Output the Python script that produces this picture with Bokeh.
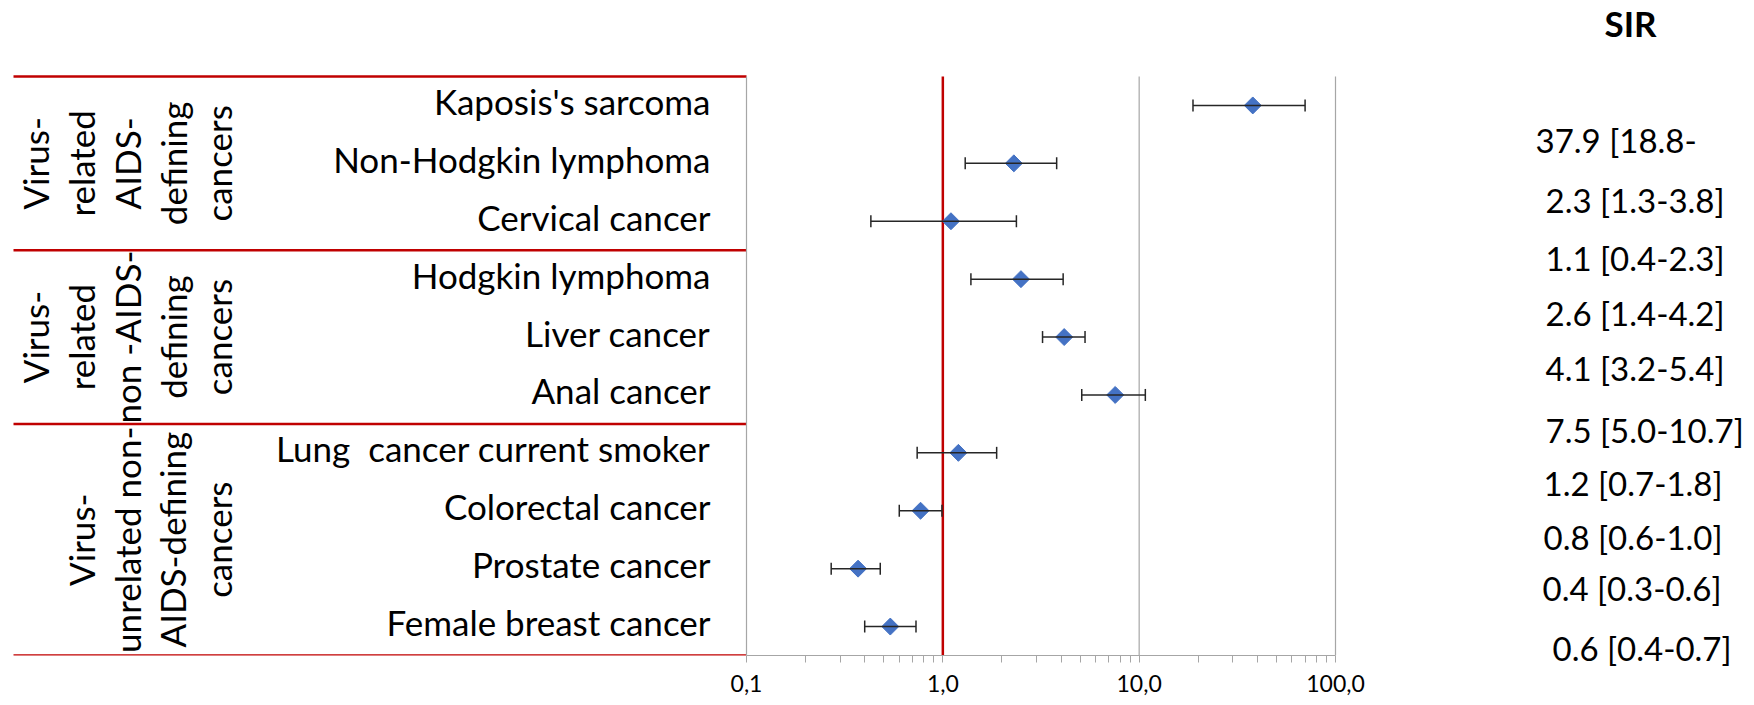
import numpy as np
from bokeh.plotting import figure
from bokeh.layouts import row
from bokeh.models import (Range1d, LogScale, LogAxis, FixedTicker, ColumnDataSource,
                          Whisker, TeeHead)
from bokeh.core.properties import value
from bokeh.embed import file_html
from bokeh.resources import INLINE

# ---------------- data ----------------
cancers = ["Kaposis's sarcoma", "Non-Hodgkin lymphoma", "Cervical cancer",
           "Hodgkin lymphoma", "Liver cancer", "Anal cancer",
           "Lung \u00a0cancer current smoker", "Colorectal cancer", "Prostate cancer",
           "Female breast cancer"]
sir = [37.9, 2.3, 1.1, 2.5, 4.15, 7.55, 1.2, 0.77, 0.37, 0.54]
ci_low = [18.8, 1.3, 0.43, 1.39, 3.22, 5.1, 0.74, 0.60, 0.27, 0.40]
ci_high = [70.0, 3.8, 2.37, 4.1, 5.3, 10.75, 1.88, 0.99, 0.48, 0.73]
sir_labels = ["37.9 [18.8-", "2.3 [1.3-3.8]", "1.1 [0.4-2.3]", "2.6 [1.4-4.2]",
              "4.1 [3.2-5.4]", "7.5 [5.0-10.7]", "1.2 [0.7-1.8]", "0.8 [0.6-1.0]",
              "0.4 [0.3-0.6]", "0.6 [0.4-0.7]"]
groups = ["Virus-\nrelated\nAIDS-\ndefining\ncancers",
          "Virus-\nrelated\nnon -AIDS-\ndefining\ncancers",
          "Virus-\nunrelated non-\nAIDS-defining\ncancers"]
group_sizes = [3, 3, 4]
major_ticks = [0.1, 1, 10, 100]
tick_labels = ["0,1", "1,0", "10,0", "100,0"]
reference_sir = 1.0
header = "SIR"

# ---------------- layout (pixels) ----------------
W, H = 1754, 705
W_MAIN = 1400
PLOT_TOP = 76.0
AXIS_Y = 655.0
ROW_PX = (AXIS_Y - PLOT_TOP) / len(cancers)
PLOT_LEFT, PLOT_RIGHT = 746.0, 1335.0
DECADE = (PLOT_RIGHT - PLOT_LEFT) / 3.0
FONT = value("Lato")
RED = "#c00000"
GRAY = "#a6a6a6"
BLUE = "#4472C4"
TXT_SHIFT = 4.5          # px: "middle" baseline sits slightly low

def px_to_y(py):
    return (py - PLOT_TOP) / ROW_PX

n = len(cancers)
row_y = [i + 0.5 for i in range(n)]
bounds = [0]
for g in group_sizes:
    bounds.append(bounds[-1] + g)
group_centers = [(bounds[k] + bounds[k + 1]) / 2 for k in range(len(group_sizes))]

# ---------------- main figure: table + forest plot ----------------
p = figure(frame_width=W_MAIN, frame_height=int(AXIS_Y),
           min_border_left=0, min_border_right=0, min_border_top=0,
           min_border_bottom=H - int(AXIS_Y),
           x_range=Range1d(0, W_MAIN), y_range=Range1d(n, px_to_y(0)),
           x_axis_type=None, y_axis_type=None,
           output_backend="svg", toolbar_location=None)
p.outline_line_color = None
p.background_fill_color = "white"
p.border_fill_color = "white"

log_lo = 10 ** (np.log10(major_ticks[0]) - PLOT_LEFT / DECADE)
log_hi = 10 ** (np.log10(major_ticks[0]) + (W_MAIN - PLOT_LEFT) / DECADE)
p.extra_x_ranges = {"log": Range1d(log_lo, log_hi)}
p.extra_x_scales = {"log": LogScale()}

minor = [k * 10.0 ** e for e in range(-1, 2) for k in range(2, 10)]
ax = LogAxis(x_range_name="log",
             ticker=FixedTicker(ticks=major_ticks, minor_ticks=minor),
             bounds=(major_ticks[0], major_ticks[-1]),
             major_label_overrides={t: l for t, l in zip(major_ticks, tick_labels)})
ax.axis_line_color = GRAY
ax.axis_line_width = 1.2
ax.major_tick_line_color = GRAY
ax.minor_tick_line_color = GRAY
ax.major_tick_in = 0
ax.major_tick_out = 7
ax.minor_tick_in = 0
ax.minor_tick_out = 7
ax.major_label_text_font = "Lato"
ax.major_label_text_font_size = "23px"
ax.major_label_text_color = "black"
ax.major_label_standoff = 12
p.add_layout(ax, "below")

# table lines
p.segment(x0=13, x1=PLOT_LEFT, y0=bounds, y1=bounds, line_color=RED, line_width=2.5)

# plot verticals: axis line at 0.1 and gridlines
grid_x = [t for t in major_ticks if t != reference_sir]
p.segment(x0=grid_x, x1=grid_x, y0=0, y1=n, x_range_name="log",
          line_color=GRAY, line_width=1.2)
p.segment(x0=[reference_sir], x1=[reference_sir], y0=[0], y1=[n], x_range_name="log",
          line_color=RED, line_width=2.5)

src = ColumnDataSource(dict(y=row_y, sir=sir, lo=ci_low, hi=ci_high))
wk = Whisker(source=src, base="y", lower="lo", upper="hi", dimension="width",
             x_range_name="log", line_color="#262626", line_width=1.5,
             upper_head=TeeHead(size=12, line_color="#262626", line_width=1.5),
             lower_head=TeeHead(size=12, line_color="#262626", line_width=1.5),
             level="glyph")
p.add_layout(wk)
p.scatter(x="sir", y="y", source=src, x_range_name="log", marker="square",
          angle=np.pi / 4, size=12, fill_color=BLUE, line_color=BLUE)

# row labels
label_y = [y - TXT_SHIFT / ROW_PX for y in row_y]
p.text(x=710, y=label_y, text=cancers, text_align="right", text_baseline="middle",
       text_font=FONT, text_font_size="35px", text_color="black")

# group labels (rotated)
p.text(x=239, y=group_centers, text=groups, angle=np.pi / 2, text_align="center",
       text_baseline="bottom", text_font=FONT, text_font_size="35px",
       text_line_height=1.095, text_color="black")

# ---------------- right figure: SIR column ----------------
q = figure(frame_width=W - W_MAIN, frame_height=H,
           min_border_left=0, min_border_right=0, min_border_top=0, min_border_bottom=0,
           x_range=Range1d(W_MAIN, W), y_range=Range1d(px_to_y(H), px_to_y(0)),
           x_axis_type=None, y_axis_type=None,
           output_backend="svg", toolbar_location=None)
q.outline_line_color = None
q.background_fill_color = "white"
q.border_fill_color = "white"

sir_x_nudge = [-10, 0, 0, 0, 0, 0, -2, -2, -3, 7]
sir_y_nudge = [0, 4, 5, 3, 2, 7, 3, 1, -5, -2]
q.text(x=[1545 + d for d in sir_x_nudge],
       y=[px_to_y(143.8 - TXT_SHIFT + 56.65 * i + sir_y_nudge[i]) for i in range(n)],
       text=sir_labels, text_align="left", text_baseline="middle",
       text_font=FONT, text_font_size="33px", text_color="black")
q.text(x=[1630], y=[px_to_y(27 - TXT_SHIFT)], text=[header], text_align="center",
       text_baseline="middle", text_font=FONT, text_font_size="35px",
       text_font_style="bold", text_color="black")

layout = row(p, q, spacing=0)
open("out.html", "w").write(file_html(layout, INLINE))
